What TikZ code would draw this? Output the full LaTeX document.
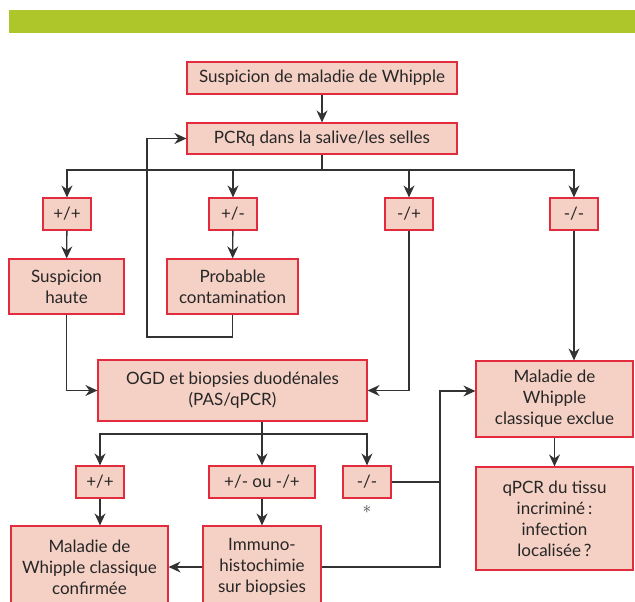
\documentclass[tikz,border=0pt]{standalone}
\usepackage{fontspec}
\setmainfont{Lato}
\usepackage{tikz}
\usetikzlibrary{arrows.meta}
\usetikzlibrary{calc}
\definecolor{vertbandeau}{RGB}{174,198,42}
\definecolor{rosecase}{RGB}{245,208,196}
\definecolor{rougecase}{RGB}{226,44,62}
\definecolor{grisfleche}{RGB}{50,50,50}
\tikzset{
	boite/.style={draw=rougecase,fill=rosecase,line width=1.2pt,align=center,inner sep=0pt,text=black!85,font=\fontsize{17}{21}\selectfont}
}
\tikzset{
	fleche/.style={draw=grisfleche,line width=1.3pt,-{Stealth[length=12pt,width=11pt,inset=4pt]}}
}
\tikzset{
	trait/.style={draw=grisfleche,line width=1.3pt}
}

\begin{document}
\begin{tikzpicture}[x=1pt,y=-1pt]
	\useasboundingbox (0,0) rectangle (635,602);
	\clip (0,0) rectangle (635,602);
	\fill[vertbandeau] (9,10) rectangle (635,33);
	%\node[boite] (susp) at (322,78) {Suspicion de maladie de Whipple};
	\node[boite,minimum width=270pt,minimum height=32pt] (susp) at (322,78) {Suspicion de maladie de Whipple};
	\node[boite,minimum width=270pt,minimum height=31pt] (pcr) at (322,138.5) {PCRq dans la salive/les selles};
	\node[boite,minimum width=48pt,minimum height=32pt] (pp1) at (67,214) {+/+};
	\node[boite,minimum width=48pt,minimum height=32pt] (pm1) at (233,214) {+/-};
	\node[boite,minimum width=48pt,minimum height=32pt] (mp1) at (409,214) {-/+};
	\node[boite,minimum width=48pt,minimum height=32pt] (mm1) at (574,214) {-/-};
	\node[boite,minimum width=115pt,minimum height=55pt] (haute) at (66.5,286.5) {Suspicion\\haute};
	\node[boite,minimum width=131pt,minimum height=55pt] (contam) at (232.5,286.5) {Probable\\contamination};
	\node[boite,minimum width=269pt,minimum height=61pt] (ogd) at (232.5,390.5) {OGD et biopsies duodénales\\(PAS/qPCR)};
	\node[boite,minimum width=157pt,minimum height=76pt] (exclue) at (554.5,399) {Maladie de\\Whipple\\classique exclue};
	\node[boite,minimum width=48pt,minimum height=32pt] (pp2) at (100,482) {+/+};
	\node[boite,minimum width=106pt,minimum height=32pt] (pmmp) at (262,482) {+/- ou -/+};
	\node[boite,minimum width=48pt,minimum height=32pt] (mm2) at (367,482) {-/-};
	\node[text=black!75,font=\fontsize{18}{18}\selectfont] (etoile) at (367,509) {$\ast$};
	\node[boite,minimum width=157pt,minimum height=103pt] (qpcr) at (554.5,518.5) {qPCR du tissu\\incriminé\,:\\infection\\localisée\,?};
	\node[boite,minimum width=157pt,minimum height=82pt] (confirm) at (89.5,567) {Maladie de\\Whipple classique\\confirmée};
	\node[boite,minimum width=118pt,minimum height=82pt] (immuno) at (262,567) {Immuno-\\histochimie\\sur biopsies};
	\coordinate (bus1) at (322,170);
	\coordinate (boucle) at (147,337);
	\coordinate (bus2) at (262,434);
	\coordinate (jonc) at (440,391);
	\draw[fleche] (susp) -- (pcr);
	\draw[trait] (pcr) -- (bus1);
	\foreach \b in {pp1,pm1,mp1,mm1}{
		\draw[fleche] (bus1) -| (\b.north);
	}
	\draw[fleche] (pp1) -- (haute);
	\draw[fleche] (pm1) -- (contam);
	\draw[fleche] (contam.south) |- (boucle) |- (pcr.west);
	\draw[fleche] (haute.south) |- (ogd.west);
	\draw[fleche] (mp1.south) |- (ogd.east);
	\draw[fleche] (mm1.south) -- (mm1.south |- exclue.north);
	\draw[trait] (ogd.south -| bus2) -- (bus2);
	\foreach \b in {pp2,pmmp,mm2}{
		\draw[fleche] (bus2) -| (\b.north);
	}
	\draw[fleche] (pp2.south) -- (pp2.south |- confirm.north);
	\draw[fleche] (pmmp) -- (immuno);
	\draw[fleche] (immuno.west) -- (immuno.west -| confirm.east);
	\draw[trait] (mm2.east) -- (mm2.east -| jonc);
	\draw[fleche] (immuno.east) -| (jonc) -- (jonc -| exclue.west);
	\draw[fleche] (exclue) -- (qpcr);
\end{tikzpicture}
\end{document}
